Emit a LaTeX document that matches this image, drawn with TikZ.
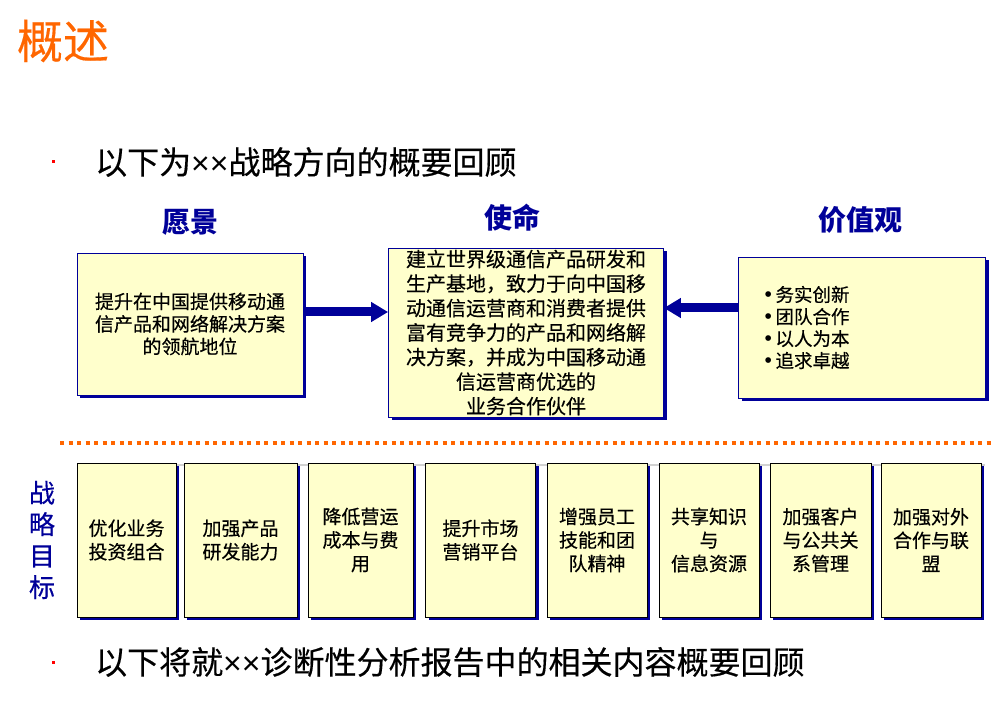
\documentclass[tikz,border=0pt]{standalone}
\usepackage{fontspec}
\setmainfont{Noto Sans CJK SC}[UprightFeatures={FakeBold=0.35}]
\newfontfamily\latinfont{Liberation Sans}
\usepackage{tikz}
\usetikzlibrary{arrows.meta,calc,positioning,shadows}
\definecolor{navy}{HTML}{000099}
\definecolor{paleyellow}{HTML}{FFFFCC}
\definecolor{titleorange}{HTML}{FF6600}
\newcommand{\vbullet}{\makebox[11pt][l]{\latinfont\fontsize{21}{21}\selectfont •}}
\newcommand{\xx}{{\latinfont ××}}

\begin{document}
\begin{tikzpicture}[x=1pt,y=-1pt,
  boxshadow/.style={drop shadow={shadow xshift=3pt,shadow yshift=-3pt,fill=navy,opacity=1}},
  topbox/.style={draw=navy,fill=paleyellow,line width=0.8pt,boxshadow,inner sep=0pt,align=center},
  goalbox/.style={draw=black,fill=paleyellow,line width=0.8pt,boxshadow,inner sep=0pt,align=center,
    minimum height=154pt,font=\fontsize{19}{23.5}\selectfont},
  heading/.style={text=navy,font=\fontsize{28}{30}\selectfont\bfseries},
  bulletline/.style={anchor=west,inner sep=0pt,font=\fontsize{32}{34}\selectfont},
  reddot/.style={fill=red,minimum size=3pt,inner sep=0pt},
  bigarrow/.style={navy,line width=9pt,-{Triangle[length=17pt,width=19pt]}}]
  \useasboundingbox (0,0) rectangle (997,711);
  % 标题
  \node[text=titleorange,font=\fontsize{46}{48}\selectfont] (title) at (63,41) {概述};
  \node[reddot] (dot1) at (53,162) {};
  \node[bulletline] (line1) at (95,162) {以下为\xx 战略方向的概要回顾};
  % 愿景 使命 价值观
  \node[heading] (visionhead) at (190,222) {愿景};
  \node[heading] (missionhead) at (512,218) {使命};
  \node[heading] (valueshead) at (860,220) {价值观};
  \node[topbox,minimum width=226pt,minimum height=142pt,font=\fontsize{19}{22.5}\selectfont] (vision) at (190,324)
    {提升在中国提供移动通\\信产品和网络解决方案\\的领航地位};
  \node[topbox,minimum width=275pt,minimum height=169pt,font=\fontsize{20}{24.5}\selectfont] (mission) at (526,332.5)
    {建立世界级通信产品研发和\\生产基地，致力于向中国移\\动通信运营商和消费者提供\\富有竞争力的产品和网络解\\决方案，并成为中国移动通\\信运营商优选的\\业务合作伙伴};
  \node[topbox,minimum width=247pt,minimum height=141pt,inner xsep=26pt,text width=195pt,align=left,
    font=\fontsize{18.5}{22}\selectfont] (values) at (862,327.5)
    {\vbullet 务实创新\\\vbullet 团队合作\\\vbullet 以人为本\\\vbullet 追求卓越};
  \draw[bigarrow] ([yshift=12pt]vision.east) -- ([yshift=12pt]vision.east -| mission.west);
  \draw[bigarrow] ([yshift=19.5pt]values.west) -- ([yshift=19.5pt]values.west -| mission.east);
  % 分隔线
  \draw[titleorange,line width=4pt,dash pattern=on 4pt off 4.5pt] (60,443) -- (993,443);
  % 战略目标
  \node[text=navy,align=center,font=\fontsize{26}{31.5}\selectfont] (goalhead) at (42,540) {战\\略\\目\\标};
  \draw[gray!35,line width=2pt] (77,465) -- (985,465);
  \foreach \name/\cx/\w/\txt in {
    g1/126.5/99/{优化业务\\投资组合},
    g2/240.5/113/{加强产品\\研发能力},
    g3/360.5/105/{降低营运\\成本与费\\用},
    g4/480.5/110/{提升市场\\营销平台},
    g5/597/100/{增强员工\\技能和团\\队精神},
    g6/709/100/{共享知识\\与\\信息资源},
    g7/820.5/101/{加强客户\\与公共关\\系管理},
    g8/931/100/{加强对外\\合作与联\\盟}}
    \node[goalbox,minimum width=\w pt] (\name) at (\cx,540) {\txt};
  % 结尾
  \node[reddot] (dot2) at (53,662) {};
  \node[bulletline] (line2) at (95,662) {以下将就\xx 诊断性分析报告中的相关内容概要回顾};
\end{tikzpicture}
\end{document}
